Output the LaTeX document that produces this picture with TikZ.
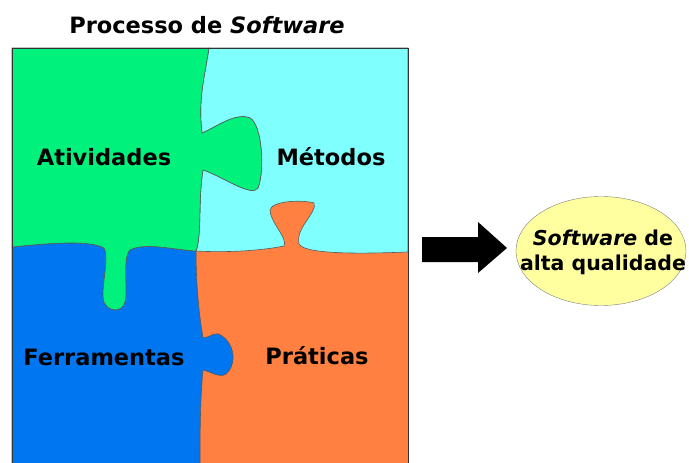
\documentclass[tikz,border=0pt]{standalone}
\usepackage{fontspec}
\setmainfont{DejaVu Sans}
\usetikzlibrary{shapes.geometric}
\definecolor{pgreen}{RGB}{0,242,125}
\definecolor{pcyan}{RGB}{128,255,255}
\definecolor{pblue}{RGB}{0,118,240}
\definecolor{porange}{RGB}{255,128,64}
\definecolor{pyellow}{RGB}{255,255,160}
\begin{document}
\begin{tikzpicture}
  [x=1pt,y=-1pt,piece/.style={draw=black!65,line width=0.6pt},
   every node/.style={font=\bfseries\fontsize{22.5}{26}\selectfont,inner sep=0pt}]
  \useasboundingbox (0,0) rectangle (689,463);
  % pieces
  \fill[porange] (12,48) rectangle (408,465);
  \filldraw[fill=pblue,piece] (12,247) .. controls (50,243) and (90,240) .. (104,248)
    .. controls (110,258) and (100,290) .. (104,302) .. controls (108,312) and (122,313) .. (125,302)
    .. controls (128,290) and (122,258) .. (130,250) .. controls (145,242) and (175,250) .. (196,251)
    .. controls (196,290) and (200,320) .. (203,338) .. controls (210,338) and (215,330) .. (222,336)
    .. controls (232,342) and (238,360) .. (228,372) .. controls (222,380) and (212,372) .. (203,370)
    .. controls (200,400) and (200,440) .. (200,465) -- (12,465) -- cycle;
  \filldraw[fill=pcyan,piece] (209,48) .. controls (204,80) and (198,100) .. (202,133)
    .. controls (215,128) and (235,112) .. (250,118) .. controls (262,125) and (265,170) .. (258,188)
    .. controls (252,198) and (220,175) .. (203,170) .. controls (198,200) and (202,235) .. (196,251)
    .. controls (230,253) and (265,250) .. (284,246) .. controls (288,238) and (270,222) .. (270,210)
    .. controls (272,200) and (305,200) .. (314,203) .. controls (318,212) and (295,228) .. (299,244)
    .. controls (305,256) and (380,253) .. (408,252) -- (408,48) -- cycle;
  \filldraw[fill=pgreen,piece] (12,48) -- (209,48) .. controls (204,80) and (198,100) .. (202,133)
    .. controls (215,128) and (235,112) .. (250,118) .. controls (262,125) and (265,170) .. (258,188)
    .. controls (252,198) and (220,175) .. (203,170) .. controls (198,200) and (202,235) .. (196,251)
    .. controls (175,250) and (145,242) .. (130,250) .. controls (122,258) and (128,290) .. (125,302)
    .. controls (122,313) and (108,312) .. (104,302) .. controls (100,290) and (110,258) .. (104,248)
    .. controls (90,240) and (50,243) .. (12,247) -- cycle;
  \draw[black!80,line width=0.7pt] (12,48) rectangle (408,466);
  % labels
  \node (title) at (207,25) {Processo de \textit{Software}};
  \node (ativ) at (104,157) {Atividades};
  \node (met) at (331,157) {Métodos};
  \node (ferr) at (104,357) {Ferramentas};
  \node (prat) at (317,356) {Práticas};
  % arrow and result
  \fill (422,237) -- (478,237) -- (478,222) -- (507,248) -- (478,273) -- (478,262) -- (422,262) -- cycle;
  \node[ellipse,draw=black!50,fill=pyellow,minimum width=170,minimum height=109] (res) at (601,251) {};
  \node[align=center,font=\bfseries\fontsize{20.5}{25}\selectfont] (restxt) at (603,252)
    {\textit{Software} de\\alta qualidade};
\end{tikzpicture}
\end{document}
